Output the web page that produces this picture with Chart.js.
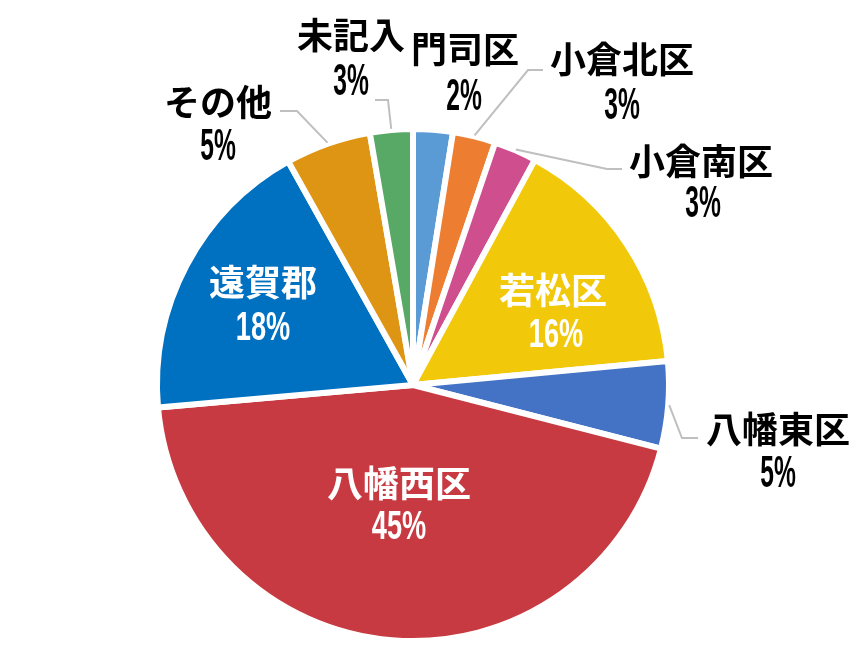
<!DOCTYPE html>
<html>
<head>
<meta charset="utf-8">
<script src="https://cdn.jsdelivr.net/npm/chart.js@4/dist/chart.umd.min.js"></script>
<style>
html,body{margin:0;padding:0;background:#fff;}
#c{display:block;}
</style>
</head>
<body>
<canvas id="c" width="865" height="670"></canvas>
<script>
// ---- data ----
const categories = ['門司区','小倉北区','小倉南区','若松区','八幡東区','八幡西区','遠賀郡','その他','未記入'];
const shares = [2.5, 2.7, 2.7, 15.6, 5.5, 44.6, 18.3, 5.4, 2.7];
const pctLabels = ['2%','3%','3%','16%','5%','45%','18%','5%','3%'];
const sliceColors = ['#5B9BD5','#ED7D31','#CF4E8D','#F2C80B','#4472C4','#C83A42','#0070C0','#DF9514','#58A866'];

// label layout (offsets from pie centre): name centre, pct centre, leader elbow+end, inside flag
const labelLayout = [
  {n:[52,-338], p:[51,-288], line:null, inside:false},
  {n:[209,-328], p:[209,-279], line:[[115,-315],[130,-315]], inside:false},
  {n:[288,-226], p:[290,-181], line:[[194,-216],[209,-216]], inside:false},
  {n:[140,-97], p:[143,-50], line:null, inside:true},
  {n:[365,42], p:[365,89], line:[[269,53],[285,53]], inside:false},
  {n:[-14,96], p:[-14,142], line:null, inside:true},
  {n:[-150,-105], p:[-150,-57], line:null, inside:true},
  {n:[-195,-285], p:[-195,-238], line:[[-116,-274],[-133,-274]], inside:false},
  {n:[-62,-352], p:[-62,-303], line:[[-25,-285],[-38,-285]], inside:false}
];

const labelPlugin = {
  id: 'pieLabels',
  afterDatasetsDraw(chart) {
    const ctx = chart.ctx;
    const arcs = chart.getDatasetMeta(0).data;
    arcs.forEach((arc, i) => {
      const L = labelLayout[i];
      const cx = arc.x, cy = arc.y;
      const p = arc.getProps(['startAngle','endAngle','outerRadius'], true);
      const mid = (p.startAngle + p.endAngle) / 2;
      ctx.save();
      if (L.line) {
        const r = p.outerRadius + 1;
        ctx.beginPath();
        ctx.moveTo(cx + Math.cos(mid) * r, cy + Math.sin(mid) * r);
        ctx.lineTo(cx + L.line[0][0], cy + L.line[0][1]);
        ctx.lineTo(cx + L.line[1][0], cy + L.line[1][1]);
        ctx.strokeStyle = '#BFBFBF';
        ctx.lineWidth = 2;
        ctx.stroke();
      }
      const col = L.inside ? '#FFFFFF' : '#000000';
      ctx.fillStyle = col;
      ctx.textAlign = 'center';
      ctx.textBaseline = 'middle';
      ctx.font = 'bold 36px "Noto Sans CJK JP"';
      ctx.fillText(categories[i], cx + L.n[0], cy + L.n[1] + 2);
      // percentage (condensed)
      ctx.save();
      const sx = L.inside ? 0.68 : 0.56;
      ctx.font = L.inside ? 'bold 40px "Liberation Sans", Arial, sans-serif' : 'bold 44px "Liberation Sans", Arial, sans-serif';
      ctx.translate(cx + L.p[0], cy + L.p[1]);
      ctx.scale(sx, 1);
      ctx.fillText(pctLabels[i], 0, 1);
      ctx.restore();
      ctx.restore();
    });
  }
};

new Chart(document.getElementById('c'), {
  type: 'pie',
  data: {
    labels: categories,
    datasets: [{
      data: shares,
      backgroundColor: sliceColors,
      borderColor: '#FFFFFF',
      borderWidth: 6,
      radius: 256
    }]
  },
  options: {
    responsive: false,
    devicePixelRatio: 1,
    animation: false,
    layout: { padding: { left: 0, right: 39, top: 100, bottom: 0 } },
    plugins: { legend: { display: false }, tooltip: { enabled: false } }
  },
  plugins: [labelPlugin]
});
</script>
</body>
</html>
